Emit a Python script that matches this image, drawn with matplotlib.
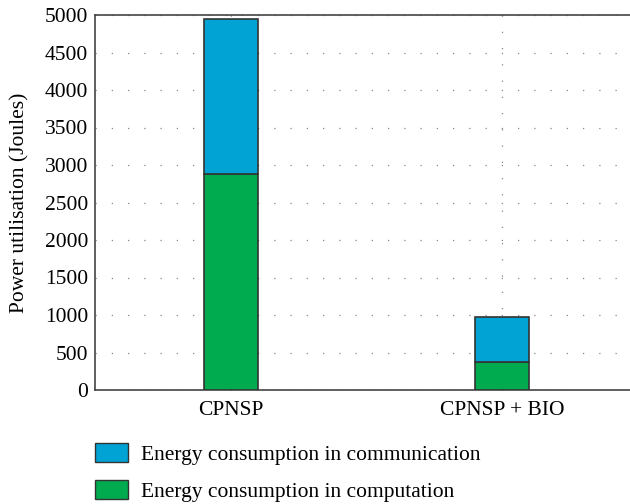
import matplotlib.pyplot as plt
from matplotlib.patches import Patch

categories = ['CPNSP', 'CPNSP + BIO']
computation = [2880, 380]
communication = [2070, 600]

plt.rcParams['font.family'] = ['Liberation Serif', 'DejaVu Serif']

c_comm = '#00a3d4'
c_comp = '#00aa4f'
edge = '#333333'

fig = plt.figure(figsize=(6.3, 5.04), dpi=100)
# axes run a little past the right edge, as in the source image
ax = fig.add_axes([95 / 630, 1 - 390 / 504, 543 / 630, 375 / 504])

x = [1, 2]
ax.bar(x, computation, width=0.2, color=c_comp, edgecolor=edge, linewidth=1.2, zorder=3)
ax.bar(x, communication, width=0.2, bottom=computation, color=c_comm,
       edgecolor=edge, linewidth=1.2, zorder=3)

ax.set_xlim(0.5, 2.5)
ax.set_ylim(0, 5000)
ax.set_yticks(range(0, 5001, 500))
ax.set_xticks(x)
ax.set_xticklabels(categories)
ax.set_ylabel('Power utilisation (Joules)', fontsize=15.5, labelpad=11)
ax.tick_params(axis='both', labelsize=15.5, length=3, direction='in', color=edge)
ax.tick_params(axis='x', pad=8)
ax.tick_params(axis='y', length=0, pad=5)

ax.grid(True, linestyle=(0, (1, 12)), color='#888888', linewidth=0.9, zorder=0)

for side in ['left', 'top', 'bottom']:
    ax.spines[side].set_color('#444444')
    ax.spines[side].set_linewidth(1.2)
ax.spines['right'].set_visible(False)

handles = [Patch(facecolor=c_comm, edgecolor=edge, label='Energy consumption in communication'),
           Patch(facecolor=c_comp, edgecolor=edge, label='Energy consumption in computation')]
fig.legend(handles=handles, loc='upper left', bbox_to_anchor=(76 / 630, 1 - 424 / 504),
           frameon=False, fontsize=15.5, handlelength=1.5, handleheight=0.95,
           labelspacing=0.7, handletextpad=0.6)

fig.savefig('out.png', dpi=100)
